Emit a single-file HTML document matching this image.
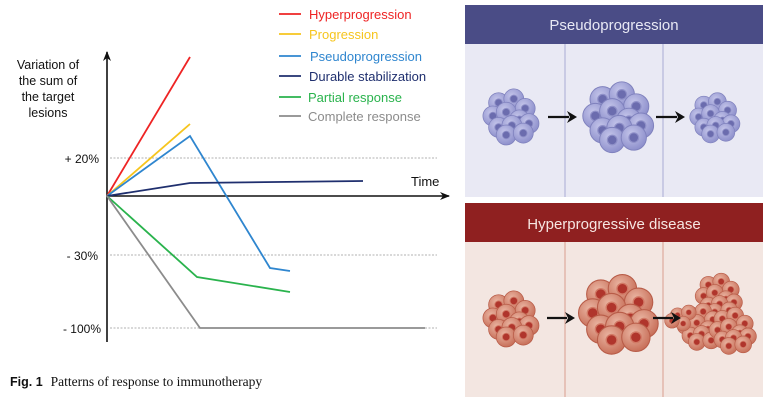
<!DOCTYPE html>
<html><head><meta charset="utf-8"><style>
html,body{margin:0;padding:0;background:#fff;}
svg{display:block}
</style></head><body>
<svg width="767" height="400" viewBox="0 0 767 400" xmlns="http://www.w3.org/2000/svg" font-family="Liberation Sans, sans-serif">
<defs>
<radialGradient id="gb" cx="40%" cy="35%" r="65%"><stop offset="0" stop-color="#c4c5ea"/><stop offset="1" stop-color="#8e90cc"/></radialGradient>
<radialGradient id="gr" cx="40%" cy="35%" r="65%"><stop offset="0" stop-color="#eab5a2"/><stop offset="1" stop-color="#c8705a"/></radialGradient>
<g id="cb"><circle r="10.5" fill="url(#gb)" stroke="#7f81bd" stroke-width="0.8"/><circle r="4" fill="#6b6cae" stroke="#8f90c8" stroke-width="1"/></g>
<g id="cr"><circle r="10.5" fill="url(#gr)" stroke="#b85c48" stroke-width="0.8"/><circle r="4" fill="#b0352c" stroke="#d27a66" stroke-width="1"/></g>
<marker id="ar" markerWidth="10" markerHeight="8" refX="9" refY="4" orient="auto" markerUnits="userSpaceOnUse"><path d="M0,0 L10,4 L0,8 L3,4 Z" fill="#111"/></marker>
</defs>

<!-- chart -->
<g stroke="#999" stroke-width="0.8" stroke-dasharray="2,1.5">
<line x1="110" y1="158" x2="437" y2="158"/>
<line x1="110" y1="255" x2="437" y2="255"/>
<line x1="110" y1="328" x2="437" y2="328"/>
</g>
<line x1="107" y1="342" x2="107" y2="52" stroke="#111" stroke-width="1.6" marker-end="url(#ar)"/>
<line x1="107" y1="196" x2="449" y2="196" stroke="#111" stroke-width="1.6" marker-end="url(#ar)"/>
<g fill="none" stroke-width="1.8">
<polyline points="107,196 190,57" stroke="#ee2424"/>
<polyline points="107,196 190,124" stroke="#f6c51e"/>
<polyline points="107,196 190,136 270,268 290,271" stroke="#2f86cf"/>
<polyline points="107,196 190,183 363,181" stroke="#1f2f6e"/>
<polyline points="107,196 197,277 290,292" stroke="#2ab34d"/>
<polyline points="107,196 200,328 425,328" stroke="#8c8c8c"/>
</g>
<g stroke-width="1.8">
<line x1="279" y1="14" x2="301" y2="14" stroke="#ee2424"/>
<line x1="279" y1="34" x2="301" y2="34" stroke="#f6c51e"/>
<line x1="279" y1="56" x2="301" y2="56" stroke="#2f86cf"/>
<line x1="279" y1="76" x2="301" y2="76" stroke="#1f2f6e"/>
<line x1="279" y1="97" x2="301" y2="97" stroke="#2ab34d"/>
<line x1="279" y1="116" x2="301" y2="116" stroke="#8c8c8c"/>
</g>
<g font-size="13">
<text x="309" y="19" fill="#ee2424">Hyperprogression</text>
<text x="309" y="39" fill="#f6c51e">Progression</text>
<text x="310" y="61" fill="#2f86cf">Pseudoprogression</text>
<text x="309" y="81" fill="#1f2f6e">Durable stabilization</text>
<text x="308" y="102" fill="#2ab34d">Partial response</text>
<text x="308" y="121" fill="#8c8c8c">Complete response</text>
</g>
<g font-size="12.5" fill="#111" text-anchor="middle">
<text x="48" y="69">Variation of</text>
<text x="48" y="85">the sum of</text>
<text x="48" y="101">the target</text>
<text x="48" y="117">lesions</text>
</g>
<g font-size="12" fill="#111" text-anchor="end">
<text x="99" y="163">+ 20%</text>
<text x="98" y="260">- 30%</text>
<text x="101" y="333">- 100%</text>
</g>
<text x="411" y="186" font-size="13" fill="#111">Time</text>
<text x="10" y="386" font-size="12.5" fill="#111"><tspan font-weight="bold">Fig. 1</tspan><tspan font-family="Liberation Serif, serif" font-size="13.5" dx="8">Patterns of response to immunotherapy</tspan></text>

<!-- right panels -->
<rect x="465" y="5" width="298" height="39" fill="#4a4c86"/>
<text x="614" y="30" font-size="15" fill="#e8e8f4" text-anchor="middle">Pseudoprogression</text>
<rect x="465" y="44" width="298" height="153" fill="#e9e9f4"/>
<line x1="565" y1="44" x2="565" y2="197" stroke="#b4b6da" stroke-width="1.2"/>
<line x1="663" y1="44" x2="663" y2="197" stroke="#b4b6da" stroke-width="1.2"/>
<rect x="465" y="203" width="298" height="39" fill="#8f2020"/>
<text x="614" y="229" font-size="15" fill="#f6e6e2" text-anchor="middle">Hyperprogressive disease</text>
<rect x="465" y="242" width="298" height="155" fill="#f3e6e1"/>
<line x1="565" y1="242" x2="565" y2="397" stroke="#deaa9c" stroke-width="1.2"/>
<line x1="663" y1="242" x2="663" y2="397" stroke="#deaa9c" stroke-width="1.2"/>

<!-- blue clusters -->
<g transform="translate(510,116) scale(0.95)">
<use href="#cb" x="-12" y="-14"/><use href="#cb" x="4" y="-18"/><use href="#cb" x="16" y="-8"/>
<use href="#cb" x="-18" y="0"/><use href="#cb" x="-4" y="-4"/><use href="#cb" x="10" y="4"/>
<use href="#cb" x="20" y="8"/><use href="#cb" x="-12" y="12"/><use href="#cb" x="2" y="10"/>
<use href="#cb" x="-4" y="20"/><use href="#cb" x="14" y="18"/></g>
<g transform="translate(617,116) scale(1.2)">
<use href="#cb" x="-12" y="-14"/><use href="#cb" x="4" y="-18"/><use href="#cb" x="16" y="-8"/>
<use href="#cb" x="-18" y="0"/><use href="#cb" x="-4" y="-4"/><use href="#cb" x="10" y="4"/>
<use href="#cb" x="20" y="8"/><use href="#cb" x="-12" y="12"/><use href="#cb" x="2" y="10"/>
<use href="#cb" x="-4" y="20"/><use href="#cb" x="14" y="18"/></g>
<g transform="translate(714,117) scale(0.85)">
<use href="#cb" x="-12" y="-14"/><use href="#cb" x="4" y="-18"/><use href="#cb" x="16" y="-8"/>
<use href="#cb" x="-18" y="0"/><use href="#cb" x="-4" y="-4"/><use href="#cb" x="10" y="4"/>
<use href="#cb" x="20" y="8"/><use href="#cb" x="-12" y="12"/><use href="#cb" x="2" y="10"/>
<use href="#cb" x="-4" y="20"/><use href="#cb" x="14" y="18"/></g>

<!-- red clusters -->
<g transform="translate(510,318) scale(0.95)">
<use href="#cr" x="-12" y="-14"/><use href="#cr" x="4" y="-18"/><use href="#cr" x="16" y="-8"/>
<use href="#cr" x="-18" y="0"/><use href="#cr" x="-4" y="-4"/><use href="#cr" x="10" y="4"/>
<use href="#cr" x="20" y="8"/><use href="#cr" x="-12" y="12"/><use href="#cr" x="2" y="10"/>
<use href="#cr" x="-4" y="20"/><use href="#cr" x="14" y="18"/></g>
<g transform="translate(617,313) scale(1.35)">
<use href="#cr" x="-12" y="-14"/><use href="#cr" x="4" y="-18"/><use href="#cr" x="16" y="-8"/>
<use href="#cr" x="-18" y="0"/><use href="#cr" x="-4" y="-4"/><use href="#cr" x="10" y="4"/>
<use href="#cr" x="20" y="8"/><use href="#cr" x="-12" y="12"/><use href="#cr" x="2" y="10"/>
<use href="#cr" x="-4" y="20"/><use href="#cr" x="14" y="18"/></g>
<g transform="translate(718,296) scale(0.8)">
<use href="#cr" x="-12" y="-14"/><use href="#cr" x="4" y="-18"/><use href="#cr" x="16" y="-8"/>
<use href="#cr" x="-18" y="0"/><use href="#cr" x="-4" y="-4"/><use href="#cr" x="10" y="4"/>
<use href="#cr" x="20" y="8"/><use href="#cr" x="-12" y="12"/><use href="#cr" x="2" y="10"/>
<use href="#cr" x="-4" y="20"/><use href="#cr" x="14" y="18"/></g>
<g transform="translate(700,326) scale(0.8)">
<use href="#cr" x="-12" y="-14"/><use href="#cr" x="4" y="-18"/><use href="#cr" x="16" y="-8"/>
<use href="#cr" x="-18" y="0"/><use href="#cr" x="-4" y="-4"/><use href="#cr" x="10" y="4"/>
<use href="#cr" x="20" y="8"/><use href="#cr" x="-12" y="12"/><use href="#cr" x="2" y="10"/>
<use href="#cr" x="-4" y="20"/><use href="#cr" x="14" y="18"/></g>
<g transform="translate(732,330) scale(0.8)">
<use href="#cr" x="-12" y="-14"/><use href="#cr" x="4" y="-18"/><use href="#cr" x="16" y="-8"/>
<use href="#cr" x="-18" y="0"/><use href="#cr" x="-4" y="-4"/><use href="#cr" x="10" y="4"/>
<use href="#cr" x="20" y="8"/><use href="#cr" x="-12" y="12"/><use href="#cr" x="2" y="10"/>
<use href="#cr" x="-4" y="20"/><use href="#cr" x="14" y="18"/></g>
<g transform="translate(686,318) scale(0.7)">
<use href="#cr" x="-12" y="-4"/><use href="#cr" x="4" y="-8"/><use href="#cr" x="-4" y="8"/><use href="#cr" x="-20" y="4"/></g>

<!-- arrows -->
<g stroke="#111" stroke-width="2.2" fill="none">
<line x1="548" y1="117" x2="569" y2="117"/>
<line x1="656" y1="117" x2="677" y2="117"/>
<line x1="547" y1="318" x2="567" y2="318"/>
<line x1="653" y1="318" x2="673" y2="318"/>
</g>
<g fill="#111">
<path d="M567,111 L577,117 L567,123 L570,117Z"/>
<path d="M675,111 L685,117 L675,123 L678,117Z"/>
<path d="M565,312 L575,318 L565,324 L568,318Z"/>
<path d="M671,312 L681,318 L671,324 L674,318Z"/>
</g>
</svg>
</body></html>
